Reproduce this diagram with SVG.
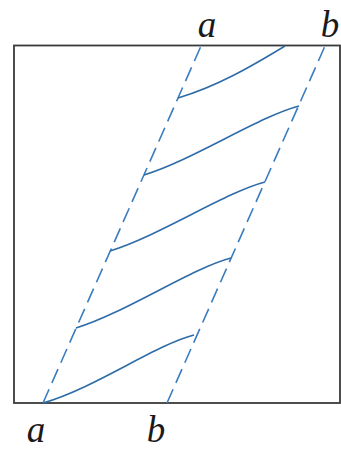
<svg xmlns="http://www.w3.org/2000/svg" width="341" height="450" viewBox="0 0 341 450">
<style>
.frame{fill:none;stroke:#3a3a3a;stroke-width:1.8}
.dash{fill:none;stroke:#3a7cc0;stroke-width:1.6;stroke-dasharray:15 7}
.curve{fill:none;stroke:#2e6ca8;stroke-width:1.6;stroke-linejoin:round}
.lbl{font-family:"Liberation Serif","Times New Roman",serif;font-style:italic;font-size:37px;fill:#1a1a1a;text-anchor:middle}
</style>
<rect width="341" height="450" fill="#ffffff"/>
<g id="frame"><rect class="frame" x="14" y="45.5" width="326" height="357.5"/></g>
<g id="connectors">
<line class="dash" x1="43" y1="403" x2="201" y2="46"/>
<line class="dash" x1="167" y1="403" x2="325" y2="46"/>
<path class="curve" d="M43,403 C95,388 155,345 194,335"/>
<path class="curve" d="M76,328 C125,313 192,268 231,258"/>
<path class="curve" d="M110,251 C159,236 226,192 265,182"/>
<path class="curve" d="M144,175 C193,160 260,116 299,106"/>
<path class="curve" d="M178,98 C218,86 252,66 285,46"/>
</g>
<g id="labels">
<text class="lbl" x="207" y="37">a</text>
<text class="lbl" x="330" y="37">b</text>
<text class="lbl" x="36" y="442">a</text>
<text class="lbl" x="156" y="442">b</text>
</g>
</svg>
